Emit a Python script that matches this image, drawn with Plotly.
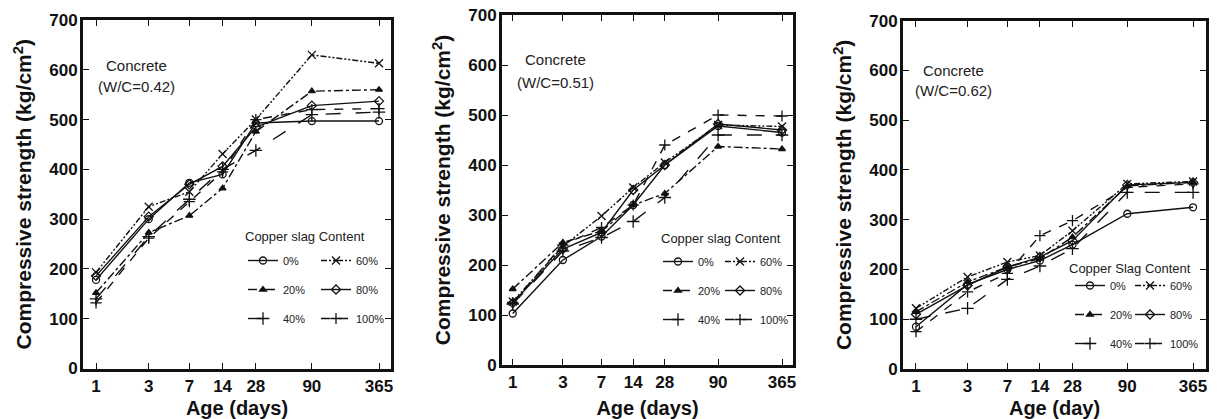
import plotly.graph_objects as go

# ---------------- data ----------------
ages = [1, 3, 7, 14, 28, 90, 365]
age_labels = ["1", "3", "7", "14", "28", "90", "365"]
contents = ["0%", "20%", "40%", "60%", "80%", "100%"]
y_ticks = [0, 100, 200, 300, 400, 500, 600, 700]

# W/C = 0.42
wc042_cs0 = [178, 300, 373, 390, 493, 497, 497]
wc042_cs20 = [152, 273, 307, 362, 476, 557, 560]
wc042_cs40 = [140, 265, 340, 400, 438, 510, 515]
wc042_cs60 = [193, 325, 355, 431, 500, 630, 613]
wc042_cs80 = [186, 305, 370, 406, 485, 528, 537]
wc042_cs100 = [132, 262, 335, 395, 500, 520, 522]

# W/C = 0.51
wc051_cs0 = [103, 210, 257, 320, 400, 478, 465]
wc051_cs20 = [152, 245, 268, 320, 343, 437, 432]
wc051_cs40 = [122, 228, 255, 287, 335, 460, 460]
wc051_cs60 = [127, 237, 298, 355, 405, 480, 477]
wc051_cs80 = [124, 232, 265, 350, 400, 482, 470]
wc051_cs100 = [125, 240, 275, 320, 440, 500, 498]

# W/C = 0.62
wc062_cs0 = [85, 170, 200, 218, 250, 312, 325]
wc062_cs20 = [115, 175, 205, 222, 265, 368, 375]
wc062_cs40 = [100, 122, 180, 207, 242, 355, 355]
wc062_cs60 = [122, 185, 215, 228, 278, 372, 377]
wc062_cs80 = [110, 168, 205, 225, 258, 370, 375]
wc062_cs100 = [75, 155, 192, 268, 298, 365, 372]

# ---------------- styles ----------------
FONT = "Liberation Sans, Arial, Helvetica, sans-serif"
INK = "#111111"
W, H = 1217, 419

styles = {
    "0%": dict(dash="solid", symbol="circle-open", size=7),
    "20%": dict(dash="dashdot", symbol="triangle-up", size=6),
    "40%": dict(dash="longdash", symbol="cross-thin-open", size=9),
    "60%": dict(dash="6px,2px,2px,2px,2px,2px", symbol="x-thin-open", size=8),
    "80%": dict(dash="solid", symbol="diamond-open", size=7),
    "100%": dict(dash="dash", symbol="cross-thin-open", size=8),
}


def px_x(p):
    return p / W


def px_y(p):
    return 1 - p / H


panels = [
    dict(series=[wc042_cs0, wc042_cs20, wc042_cs40, wc042_cs60, wc042_cs80, wc042_cs100],
         wc="(W/C=0.42)", xtitle="Age (days)", ltitle="Copper slag Content",
         xdom=[83, 391], ydom=[368.5, 20], xrange=[-0.118, 2.671],
         note=(136, 65, 87), ltitle_pos=(305, 236),
         leg_left=243, leg_right=316, leg_top=246),
    dict(series=[wc051_cs0, wc051_cs20, wc051_cs40, wc051_cs60, wc051_cs80, wc051_cs100],
         wc="(W/C=0.51)", xtitle="Age (days)", ltitle="Copper slag Content",
         xdom=[502, 793], ydom=[365, 15], xrange=[-0.102, 2.667],
         note=(555, 60, 82), ltitle_pos=(721, 239),
         leg_left=658, leg_right=720, leg_top=247),
    dict(series=[wc062_cs0, wc062_cs20, wc062_cs40, wc062_cs60, wc062_cs80, wc062_cs100],
         wc="(W/C=0.62)", xtitle="Age (day)", ltitle="Copper Slag Content",
         xdom=[903, 1206], ydom=[369, 20.7], xrange=[-0.120, 2.682],
         note=(953, 70, 91), ltitle_pos=(1130, 268),
         leg_left=1070, leg_right=1130, leg_top=271),
]

fig = go.Figure()
layout = dict(
    width=W, height=H, autosize=False,
    margin=dict(l=0, r=0, t=0, b=0, pad=0),
    paper_bgcolor="white", plot_bgcolor="white",
    font=dict(family=FONT, color=INK),
    showlegend=True,
    annotations=[],
)

for i, p in enumerate(panels):
    sfx = "" if i == 0 else str(i + 1)
    xref, yref = "x" + sfx, "y" + sfx
    leg_l = "legend" if i == 0 else f"legend{2 * i + 1}"
    leg_r = f"legend{2 * i + 2}"
    for j, (c, vals) in enumerate(zip(contents, p["series"])):
        st = styles[c]
        fig.add_trace(go.Scatter(
            x=ages, y=vals, name=c, mode="lines+markers",
            xaxis=xref, yaxis=yref,
            legend=leg_l if j < 3 else leg_r,
            legendgroup=f"p{i}_{c}",
            line=dict(color=INK, width=1.4, dash=st["dash"]),
            marker=dict(symbol=st["symbol"], size=st["size"], color=INK,
                        line=dict(color=INK, width=1.3)),
        ))
    for lid, lx in ((leg_l, p["leg_left"]), (leg_r, p["leg_right"])):
        layout[lid] = dict(
            x=px_x(lx), y=px_y(p["leg_top"]), xref="paper", yref="paper",
            xanchor="left", yanchor="top", orientation="v",
            bgcolor="rgba(0,0,0,0)", borderwidth=0,
            font=dict(family=FONT, size=11, color="#222222"),
            itemwidth=30, tracegroupgap=10, traceorder="grouped",
        )
    ax_common = dict(showline=True, linewidth=3, linecolor=INK, mirror="ticks",
                     ticks="inside", tickcolor=INK, tickwidth=1.3, ticklen=6,
                     showgrid=False, zeroline=False, automargin=False,
                     tickfont=dict(family=FONT, size=17, color=INK, weight="bold"))
    layout["xaxis" + sfx] = dict(
        ax_common, type="log", range=p["xrange"],
        domain=[px_x(p["xdom"][0]), px_x(p["xdom"][1])],
        anchor=yref, tickmode="array", tickvals=ages, ticktext=age_labels,
        ticklabelstandoff=0,
        title=dict(text=p["xtitle"], standoff=12,
                   font=dict(family=FONT, size=20, color=INK, weight="bold")),
    )
    layout["yaxis" + sfx] = dict(
        ax_common, range=[0, 700],
        domain=[px_y(p["ydom"][0]), px_y(p["ydom"][1])],
        anchor=xref, tickmode="array", tickvals=y_ticks,
        ticklabelstandoff=-1,
        title=dict(text="Compressive strength (kg/cm<sup>2</sup>)", standoff=12,
                   font=dict(family=FONT, size=21, color=INK, weight="bold")),
    )
    nx, ny1, ny2 = p["note"]
    layout["annotations"] += [
        dict(text="Concrete", x=px_x(nx), y=px_y(ny1), xref="paper", yref="paper",
             showarrow=False, xanchor="center", yanchor="middle",
             font=dict(family=FONT, size=15, color="#222222")),
        dict(text=p["wc"], x=px_x(nx), y=px_y(ny2), xref="paper", yref="paper",
             showarrow=False, xanchor="center", yanchor="middle",
             font=dict(family=FONT, size=15, color="#222222")),
        dict(text=p["ltitle"], x=px_x(p["ltitle_pos"][0]), y=px_y(p["ltitle_pos"][1]),
             xref="paper", yref="paper", showarrow=False,
             xanchor="center", yanchor="middle",
             font=dict(family=FONT, size=13, color="#222222")),
    ]

fig.update_layout(**layout)
# remove the default 8px page margin so the figure sits at the window origin
fig.write_html("out.html", config={"displayModeBar": False},
               post_script="document.body.style.margin='0px';")
